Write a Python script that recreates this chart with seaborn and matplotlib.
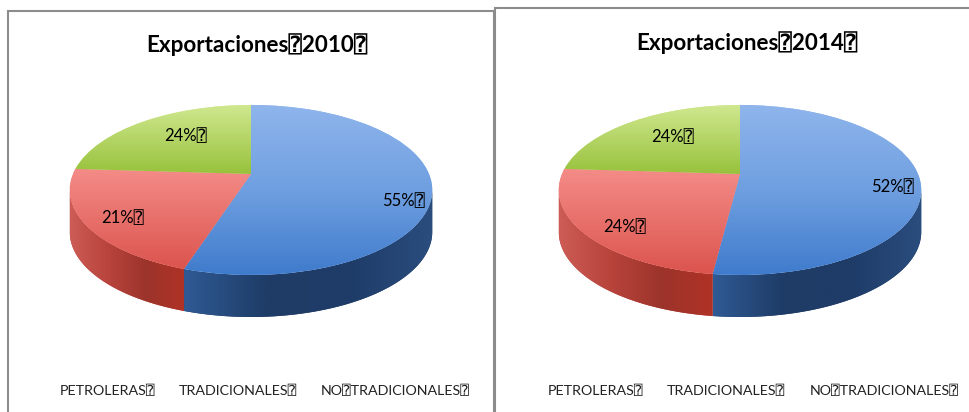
import numpy as np
import matplotlib
matplotlib.use("Agg")
import matplotlib.pyplot as plt
import seaborn as sns
from matplotlib.patches import PathPatch, Rectangle
from matplotlib.path import Path
from matplotlib.transforms import Transform

categories = ["PETROLERAS⍰", "TRADICIONALES⍰", "NO⍰TRADICIONALES⍰"]
values_2010 = [55, 21, 24]
values_2014 = [52, 24, 24]
titles = ["Exportaciones⍰2010⍰", "Exportaciones⍰2014⍰"]

sns.set_theme(style="white")
plt.rcParams["font.family"] = ["Lato", "DejaVu Sans", "DejaVu Sans Mono"]

W, H = 970, 412
fig = plt.figure(figsize=(W / 100, H / 100), dpi=100, facecolor="white")

top_cols = [("#8fb5ec", "#6f9fe0", "#3f7bcc"), ("#f48c88", "#dc544e"), ("#d0e890", "#98c23c")]
wall_cols = [["#2f5a94", "#1e3c66", "#1f3c68", "#2a4d7e"],
             ["#cc5c55", "#b8443c", "#9c342b", "#b03226"]]


class Persp(Transform):
    input_dims = output_dims = 2
    has_inverse = False

    def __init__(self, rx, a, k):
        super().__init__()
        self.rx, self.a, self.k = rx, a, k

    def transform_non_affine(self, xy):
        xy = np.asarray(xy, float)
        w = 1 + self.k * xy[:, 1]
        return np.c_[self.rx * xy[:, 0] / w, self.a * xy[:, 1] / w]

    def transform_path_non_affine(self, path):
        return Path(self.transform_non_affine(path.vertices), path.codes)


def gradient(ax, patch, cols, extent, vertical=True, z=2):
    cmap = sns.blend_palette(cols, as_cmap=True)
    g = np.linspace(0, 1, 200)
    arr = g[:, None] if vertical else g[None, :]
    im = ax.imshow(arr, cmap=cmap, extent=extent, origin="upper", aspect="auto",
                   zorder=z, vmin=0, vmax=1)
    im.set_clip_path(patch)


def panel(left, top, width, height, values, title, cx, cy, title_xy, label_xy, legend_x):
    ax = fig.add_axes([left / W, 1 - (top + height) / H, width / W, height / H])
    ax.add_patch(Rectangle((0, 0), 1, 1, transform=ax.transAxes, fill=False,
                           ec="#8c8c8c", lw=1.5, clip_on=False, zorder=9))
    ox, oy = cx - left, cy - top
    wedges, _ = ax.pie(values, startangle=90, counterclock=False, radius=1,
                       colors=[c[0] for c in top_cols],
                       wedgeprops=dict(lw=0, zorder=1.9))
    ax.set_aspect("auto")
    ax.set_frame_on(False)

    rx, a, k = 178.0, 82.0, 0.188
    proj = Persp(rx, a, k)
    edges = 90 - 360 * np.cumsum([0] + list(values)) / 100
    vis_lim = np.degrees(np.arctan2(-k, np.sqrt(1 - k * k)))
    for i in range(2):
        t1, t2 = edges[i + 1], edges[i]
        t2 = min(t2, vis_lim)
        t1 = max(t1, 180 - vis_lim - 360)
        if t2 <= t1:
            continue
        th = np.radians(np.linspace(t1, t2, 120))
        upper = proj.transform_non_affine(np.c_[np.cos(th), np.sin(th)])
        lower = upper - [0, 42]
        poly = np.r_[upper, lower[::-1]]
        patch = PathPatch(Path(np.r_[poly, poly[:1]], closed=True), fc=wall_cols[i][1],
                          lw=0, zorder=1.5, transform=ax.transData)
        ax.add_patch(patch)
        ext = [poly[:, 0].min(), poly[:, 0].max(), poly[:, 1].min(), poly[:, 1].max()]
        gradient(ax, patch, wall_cols[i], ext, vertical=False, z=1.6)

    for w, cols in zip(wedges, top_cols):
        verts = proj.transform_non_affine(w.get_patch_transform().transform(w.get_path().vertices))
        w.set_transform(proj + ax.transData)
        ext = [verts[:, 0].min(), verts[:, 0].max(), verts[:, 1].min(), verts[:, 1].max()]
        gradient(ax, w, cols, ext, vertical=True, z=2)

    ax.set_xlim(-ox, width - ox)
    ax.set_ylim(-(height - oy), oy)

    def px(x, y):
        return (x - left) / width, 1 - (y - top) / height

    ax.text(*px(*title_xy), title, transform=ax.transAxes, ha="center", va="center",
            fontsize=16.2, fontweight="bold", color="black", zorder=10)
    for v, xy in zip(values, label_xy):
        ax.text(*px(*xy), f"{v}%⍰", transform=ax.transAxes, ha="left", va="center",
                fontsize=12, color="black", zorder=10)
    for c, x in zip(categories, legend_x):
        ax.text(*px(x, 391), c, transform=ax.transAxes, ha="left", va="center",
                fontsize=10.3, color="#222222", zorder=10)


panel(8, 11, 486, 405, values_2010, titles[0], 251, 174, (257, 45),
      [(382, 201), (101, 218), (164, 136)], [60, 179, 321])
panel(495, 8, 480, 410, values_2014, titles[1], 740, 174, (747, 43),
      [(871, 187), (603, 227), (651, 137)], [548, 667, 810])

fig.savefig("out.png", dpi=100)
